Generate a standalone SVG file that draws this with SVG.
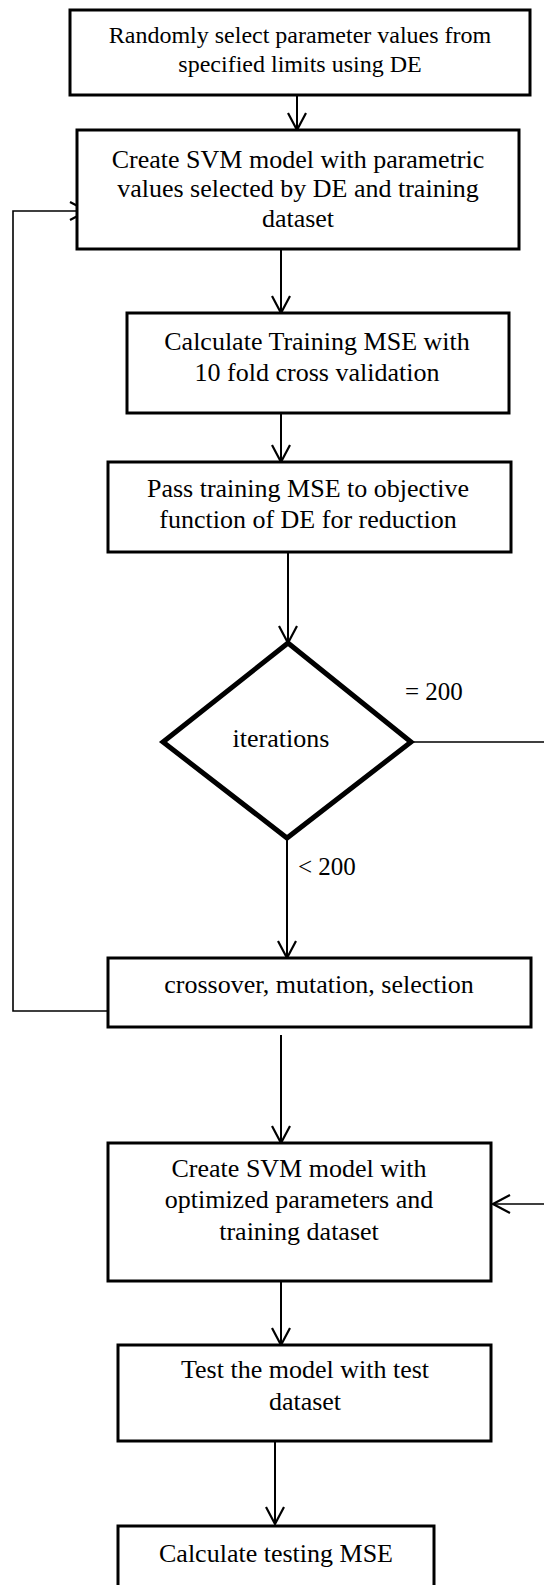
<svg xmlns="http://www.w3.org/2000/svg" width="544" height="1585" viewBox="0 0 544 1585">
<style>
.box{fill:#fff;stroke:#000;stroke-width:3}
.dia{fill:#fff;stroke:#000;stroke-width:5;stroke-linejoin:miter}
.t{font-family:"Liberation Serif","Times New Roman",serif;font-size:26px;fill:#000;text-anchor:middle}
.t1{font-size:24px}
.lbl{font-family:"Liberation Serif","Times New Roman",serif;font-size:25px;fill:#000}
.c{fill:none;stroke:#000;stroke-width:2}
.thin{stroke-width:1.6}
</style>
<defs>
<marker id="arr" viewBox="-20 -12 22 24" refX="0" refY="0" markerWidth="22" markerHeight="24" markerUnits="userSpaceOnUse" orient="auto">
<path d="M-17,-9 L0,0 L-17,9" fill="none" stroke="#000" stroke-width="2.2"/>
</marker>
</defs>
<g id="connectors">
<path class="c" d="M297,95 V130" marker-end="url(#arr)"/>
<path class="c" d="M281,249 V313" marker-end="url(#arr)"/>
<path class="c" d="M281,413 V462" marker-end="url(#arr)"/>
<path class="c" d="M288,552 V643" marker-end="url(#arr)"/>
<path class="c thin" d="M411,742 H546 V1204 H493" marker-end="url(#arr)"/>
<path class="c" d="M287,838 V958" marker-end="url(#arr)"/>
<path class="c thin" d="M108,1011 H13 V211 H87" marker-end="url(#arr)"/>
<path class="c" d="M281,1035 V1143" marker-end="url(#arr)"/>
<path class="c" d="M281,1268 V1345" marker-end="url(#arr)"/>
<path class="c" d="M275,1438 V1524" marker-end="url(#arr)"/>
</g>
<g id="n1">
<rect class="box" x="70" y="10" width="460" height="85"/>
<text class="t t1" x="300" y="43">Randomly select parameter values from</text>
<text class="t t1" x="300" y="72">specified limits using DE</text>
</g>
<g id="n2">
<rect class="box" x="77" y="130" width="442" height="119"/>
<text class="t" x="298" y="168">Create SVM model with parametric</text>
<text class="t" x="298" y="197">values selected by DE and training</text>
<text class="t" x="298" y="227">dataset</text>
</g>
<g id="n3">
<rect class="box" x="127" y="313" width="382" height="100"/>
<text class="t" x="317" y="350">Calculate Training MSE with</text>
<text class="t" x="317" y="381">10 fold cross validation</text>
</g>
<g id="n4">
<rect class="box" x="108" y="462" width="403" height="90"/>
<text class="t" x="308" y="497">Pass training MSE to objective</text>
<text class="t" x="308" y="528">function of DE for reduction</text>
</g>
<g id="n5">
<polygon class="dia" points="288,643 411,742 287,838 163,742"/>
<text class="t" x="281" y="747">iterations</text>
</g>
<g id="labels">
<text class="lbl" x="405" y="700">= 200</text>
<text class="lbl" x="298" y="875">&lt; 200</text>
</g>
<g id="n6">
<rect class="box" x="108" y="958" width="423" height="69"/>
<text class="t" x="319" y="993">crossover, mutation, selection</text>
</g>
<g id="n7">
<rect class="box" x="108" y="1143" width="383" height="138"/>
<text class="t" x="299" y="1177">Create SVM model with</text>
<text class="t" x="299" y="1208">optimized parameters and</text>
<text class="t" x="299" y="1240">training dataset</text>
</g>
<g id="n8">
<rect class="box" x="118" y="1345" width="373" height="96"/>
<text class="t" x="305" y="1378">Test the model with test</text>
<text class="t" x="305" y="1410">dataset</text>
</g>
<g id="n9">
<rect class="box" x="118" y="1526" width="316" height="80"/>
<text class="t" x="276" y="1562">Calculate testing MSE</text>
</g>
</svg>
